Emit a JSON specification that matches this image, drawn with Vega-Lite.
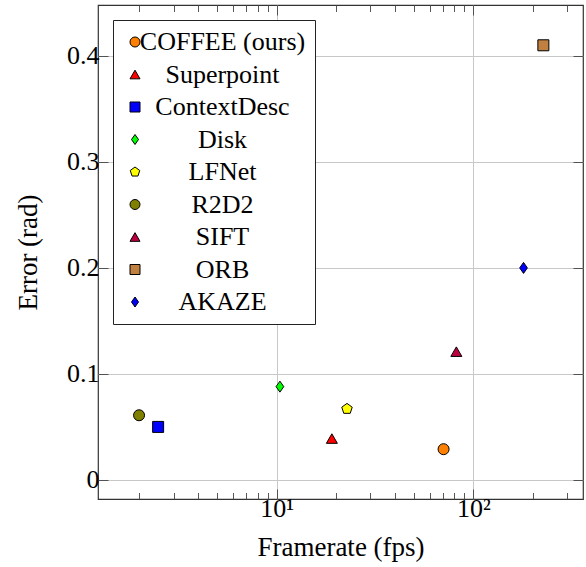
{
  "$schema": "https://vega.github.io/schema/vega-lite/v6.json",
  "width": 485,
  "height": 494,
  "autosize": "none",
  "padding": {"left": 98, "top": 5, "right": 3, "bottom": 68},
  "background": "white",
  "config": {
    "view": {"stroke": "#333", "strokeWidth": 1.2},
    "font": "Liberation Serif",
    "axis": {"labelFont": "Liberation Serif", "titleFont": "Liberation Serif", "labelColor": "black", "titleColor": "black", "titleFontWeight": "normal"},
    "legend": {"labelFont": "Liberation Serif"}
  },
  "data": {
    "values": [
      {"method": "COFFEE (ours)", "fps": 70.6, "error": 0.029},
      {"method": "Superpoint", "fps": 19.1, "error": 0.039},
      {"method": "ContextDesc", "fps": 2.5, "error": 0.050},
      {"method": "Disk", "fps": 10.4, "error": 0.088},
      {"method": "LFNet", "fps": 22.8, "error": 0.067},
      {"method": "R2D2", "fps": 2.0, "error": 0.061},
      {"method": "SIFT", "fps": 82, "error": 0.121},
      {"method": "ORB", "fps": 227, "error": 0.41},
      {"method": "AKAZE", "fps": 180, "error": 0.2}
    ]
  },
  "resolve": {"axis": {"x": "independent", "y": "independent"}},
  "layer": [
    {
      "mark": {"type": "point", "opacity": 0},
      "encoding": {
        "x": {"field": "fps", "type": "quantitative", "scale": {"type": "log", "domain": [1.237, 361], "nice": false},
          "axis": {"orient": "bottom", "values": [2,3,4,5,6,7,8,9,20,30,40,50,60,70,80,90,200,300], "labels": false, "grid": false, "domain": false, "tickSize": -6.5, "tickColor": "#444", "tickWidth": 0.9, "title": null}},
        "y": {"field": "error", "type": "quantitative", "scale": {"domain": [-0.018, 0.448], "nice": false, "zero": false},
          "axis": {"orient": "right", "values": [0, 0.1, 0.2, 0.3, 0.4], "labels": false, "grid": false, "domain": false, "tickSize": -10, "tickColor": "#444", "tickWidth": 0.9, "title": null}}
      }
    },
    {
      "mark": {"type": "point", "opacity": 0},
      "encoding": {
        "x": {"field": "fps", "type": "quantitative",
          "axis": {"orient": "top", "values": [2,3,4,5,6,7,8,9,20,30,40,50,60,70,80,90,200,300], "labels": false, "grid": false, "domain": false, "tickSize": -6.5, "tickColor": "#444", "tickWidth": 0.9, "title": null}},
        "y": {"field": "error", "type": "quantitative", "axis": null}
      }
    },
    {
      "mark": {"type": "point", "opacity": 0},
      "encoding": {
        "x": {"field": "fps", "type": "quantitative",
          "axis": {"orient": "top", "values": [10, 100], "labels": false, "grid": false, "domain": false, "tickSize": -10, "tickColor": "#444", "tickWidth": 0.9, "title": null}},
        "y": {"field": "error", "type": "quantitative", "axis": null}
      }
    },
    {
      "mark": {"type": "point", "filled": true, "opacity": 1, "stroke": "black", "strokeWidth": 1},
      "encoding": {
        "x": {"field": "fps", "type": "quantitative",
          "axis": {"orient": "bottom", "values": [10, 100], "labelExpr": "datum.value == 10 ? '10¹' : '10²'", "labelFontSize": 26, "labelPadding": 6, "grid": true, "gridColor": "#c8c8c8", "gridWidth": 1, "domain": false, "tickSize": -10, "tickColor": "#444", "tickWidth": 0.9, "title": "Framerate (fps)", "titleFontSize": 27, "titlePadding": 13}},
        "y": {"field": "error", "type": "quantitative",
          "axis": {"orient": "left", "values": [0, 0.1, 0.2, 0.3, 0.4], "labelExpr": "datum.value == 0 ? '0' : format(datum.value, '.1f')", "labelFontSize": 26, "labelPadding": 9, "grid": true, "gridColor": "#c8c8c8", "gridWidth": 1, "domain": false, "tickSize": -10, "tickColor": "#444", "tickWidth": 0.9, "title": "Error (rad)", "titleFontSize": 27, "titlePadding": 24}},
        "color": {"field": "method", "type": "nominal",
          "scale": {"domain": ["COFFEE (ours)", "Superpoint", "ContextDesc", "Disk", "LFNet", "R2D2", "SIFT", "ORB", "AKAZE"],
            "range": ["#ff8000", "#ff0000", "#0000ff", "#00ff00", "#ffff00", "#808000", "#bf0040", "#bf8040", "#0000ff"]},
          "legend": {"orient": "none", "legendX": 15, "legendY": 15, "title": null, "fillColor": "white", "strokeColor": "#222", "padding": 9, "labelFont": "Liberation Serif", "labelFontSize": 26, "labelColor": "black", "labelAlign": "center", "labelOffset": 74.5, "rowPadding": 6.5, "symbolSize": 100, "symbolStrokeColor": "black", "symbolStrokeWidth": 1, "labelLimit": 300}},
        "shape": {"field": "method", "type": "nominal",
          "scale": {"domain": ["COFFEE (ours)", "Superpoint", "ContextDesc", "Disk", "LFNet", "R2D2", "SIFT", "ORB", "AKAZE"],
            "range": ["circle", "triangle-up", "square", "M0,-1L0.7,0L0,1L-0.7,0Z", "M0,-1L0.951,-0.309L0.588,0.809L-0.588,0.809L-0.951,-0.309Z", "circle", "triangle-up", "square", "M0,-1L0.7,0L0,1L-0.7,0Z"]},
          "legend": {"orient": "none", "legendX": 15, "legendY": 15, "title": null, "fillColor": "white", "strokeColor": "#222", "padding": 9, "labelFont": "Liberation Serif", "labelFontSize": 26, "labelColor": "black", "labelAlign": "center", "labelOffset": 74.5, "rowPadding": 6.5, "symbolSize": 100, "symbolStrokeColor": "black", "symbolStrokeWidth": 1, "labelLimit": 300}},
        "size": {"value": 121}
      }
    }
  ]
}
